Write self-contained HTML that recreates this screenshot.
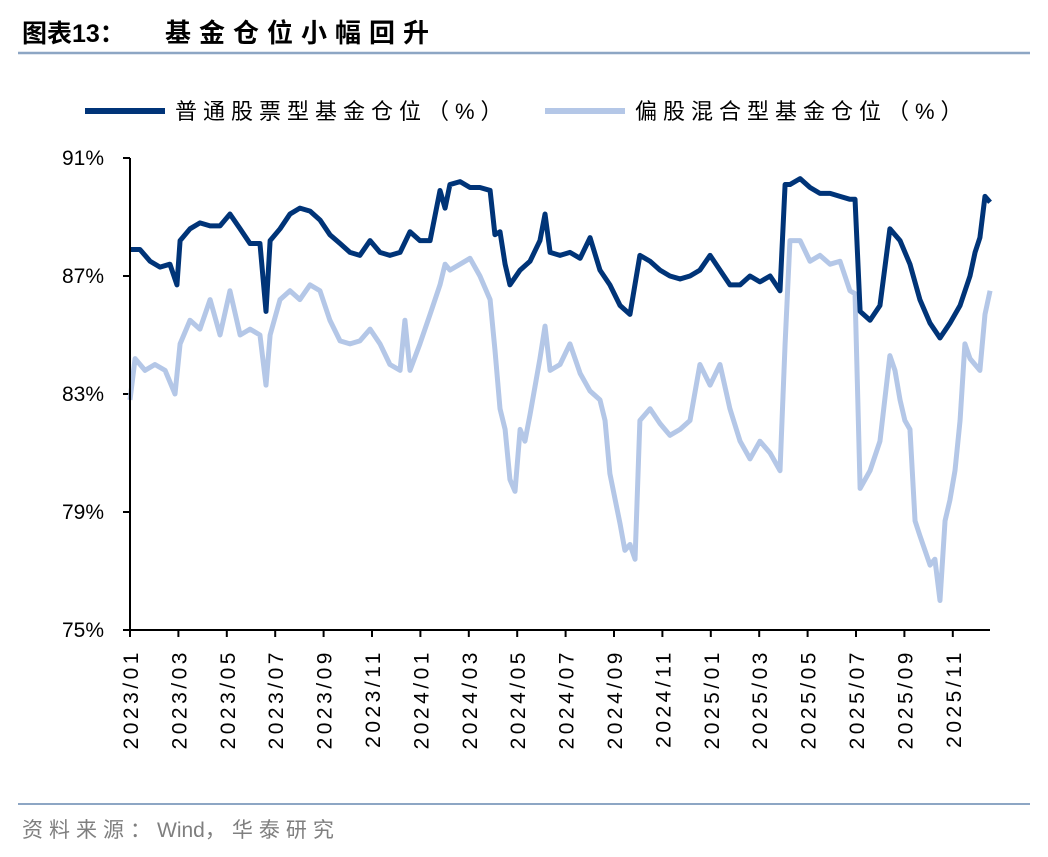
<!DOCTYPE html>
<html><head><meta charset="utf-8"><style>
body{margin:0;background:#fff;font-family:"Liberation Sans","Noto Sans CJK SC",sans-serif}
svg text{font-family:"Liberation Sans","Noto Sans CJK SC",sans-serif}
</style></head><body>
<svg id="c" width="1048" height="852" viewBox="0 0 1048 852" xmlns="http://www.w3.org/2000/svg">
<text x="22" y="42" font-size="25" font-weight="bold" fill="#000">图表13：</text>
<text x="165" y="42" font-size="26" font-weight="bold" letter-spacing="8" fill="#000">基金仓位小幅回升</text>
<line x1="18" y1="53" x2="1030" y2="53" stroke="#8DA6C4" stroke-width="2.5"/>
<g>
<line x1="85" y1="111" x2="165" y2="111" stroke="#003478" stroke-width="6"/>
<text x="175" y="119" font-size="22" letter-spacing="6" fill="#000">普通股票型基金仓位（%）</text>
<line x1="545" y1="111" x2="625" y2="111" stroke="#B4C7E7" stroke-width="6"/>
<text x="635" y="119" font-size="22" letter-spacing="6" fill="#000">偏股混合型基金仓位（%）</text>
</g>
<g id="plot"></g>
<line x1="18" y1="804" x2="1030" y2="804" stroke="#8DA6C4" stroke-width="2"/>
<text x="22" y="837" font-size="21" fill="#7F7F7F"><tspan letter-spacing="6">资料来源：</tspan><tspan>Wind</tspan><tspan letter-spacing="6">，华泰研究</tspan></text>
</svg>
<script>
const yTicks=[75,79,83,87,91];
const xTickLabels=["2023/01","2023/03","2023/05","2023/07","2023/09","2023/11","2024/01","2024/03","2024/05","2024/07","2024/09","2024/11","2025/01","2025/03","2025/05","2025/07","2025/09","2025/11"];
const tDark=[0,.41,.83,1.24,1.65,1.94,2.07,2.48,2.89,3.31,3.72,4.13,4.55,4.96,5.37,5.62,5.79,6.2,6.61,7.02,7.44,7.85,8.26,8.68,9.09,9.5,9.92,10.33,10.74,11.16,11.57,11.98,12.4,12.81,13.02,13.22,13.64,14.05,14.46,14.88,15.08,15.29,15.5,15.7,16.12,16.53,16.94,17.15,17.36,17.77,18.18,18.6,19.01,19.42,19.83,20.25,20.66,21.07,21.49,21.9,22.31,22.73,23.14,23.55,23.97,24.38,24.79,25.21,25.62,26.03,26.45,26.86,27.07,27.27,27.69,28.1,28.51,28.93,29.34,29.75,29.96,30.17,30.58,30.99,31.4,31.82,32.23,32.64,33.06,33.47,33.88,34.3,34.71,34.92,35.12,35.33,35.54];
const vDark=[87.9,87.9,87.5,87.3,87.4,86.7,88.2,88.6,88.8,88.7,88.7,89.1,88.6,88.1,88.1,85.8,88.2,88.6,89.1,89.3,89.2,88.9,88.4,88.1,87.8,87.7,88.2,87.8,87.7,87.8,88.5,88.2,88.2,89.9,89.3,90.1,90.2,90.0,90.0,89.9,88.4,88.5,87.4,86.7,87.2,87.5,88.2,89.1,87.8,87.7,87.8,87.6,88.3,87.2,86.7,86.0,85.7,87.7,87.5,87.2,87.0,86.9,87.0,87.2,87.7,87.2,86.7,86.7,87.0,86.8,87.0,86.5,90.1,90.1,90.3,90.0,89.8,89.8,89.7,89.6,89.6,85.8,85.5,86.0,88.6,88.2,87.4,86.2,85.4,84.9,85.4,86.0,87.0,87.8,88.3,89.7,89.5];
const tLight=[0,.21,.62,1.03,1.45,1.86,2.07,2.48,2.89,3.31,3.72,4.13,4.55,4.96,5.37,5.62,5.79,6.2,6.61,7.02,7.44,7.85,8.26,8.68,9.09,9.5,9.92,10.33,10.74,11.16,11.36,11.57,11.98,12.4,12.81,13.02,13.22,13.64,14.05,14.46,14.88,15.08,15.29,15.5,15.7,15.91,16.12,16.32,16.53,16.94,17.15,17.36,17.77,18.18,18.6,19.01,19.42,19.63,19.83,20.25,20.45,20.66,20.87,21.07,21.49,21.9,22.31,22.73,23.14,23.55,23.97,24.38,24.79,25.21,25.62,26.03,26.45,26.86,27.07,27.27,27.69,28.1,28.51,28.93,29.34,29.75,29.96,30.17,30.58,30.99,31.4,31.61,31.82,32.02,32.23,32.44,32.64,33.06,33.26,33.47,33.68,33.88,34.09,34.3,34.5,34.71,35.12,35.33,35.54];
const vLight=[82.8,84.2,83.8,84.0,83.8,83.0,84.7,85.5,85.2,86.2,85.0,86.5,85.0,85.2,85.0,83.3,85.0,86.2,86.5,86.2,86.7,86.5,85.5,84.8,84.7,84.8,85.2,84.7,84.0,83.8,85.5,83.8,84.7,85.7,86.7,87.4,87.2,87.4,87.6,87.0,86.2,84.5,82.5,81.8,80.1,79.7,81.8,81.4,82.3,84.2,85.3,83.8,84.0,84.7,83.7,83.1,82.8,82.1,80.3,78.6,77.7,77.9,77.4,82.1,82.5,82.0,81.6,81.8,82.1,84.0,83.3,84.0,82.5,81.4,80.8,81.4,81.0,80.4,84.7,88.2,88.2,87.5,87.7,87.4,87.5,86.5,86.4,79.8,80.4,81.4,84.3,83.8,82.8,82.1,81.8,78.7,78.2,77.2,77.4,76.0,78.7,79.4,80.4,82.1,84.7,84.2,83.8,85.7,86.5];
const X0=130,PX=24.2,Y0=630,PY=29.5;
const xs=t=>X0+t*PX, ys=v=>Y0-(v-75)*PY;
const NS="http://www.w3.org/2000/svg", g=document.getElementById('plot');
function mk(tag,a){const e=document.createElementNS(NS,tag);for(const k in a)e.setAttribute(k,a[k]);g.appendChild(e);return e;}
yTicks.forEach(v=>{
 const tk=mk('line',{x1:X0-7,x2:X0,y1:ys(v),y2:ys(v),stroke:'#000','stroke-width':2});
 
 
 const t=mk('text',{x:104,y:ys(v)+7,'font-size':21,'text-anchor':'end',fill:'#000'});
 t.textContent=v+'%';
 
 
});
xTickLabels.forEach((s,i)=>{
 const x=xs(i*2);
 const tk=mk('line',{x1:x,x2:x,y1:Y0,y2:Y0+7,stroke:'#000','stroke-width':2});
 
 
 const t=mk('text',{x:0,y:0,'font-size':21,'letter-spacing':'3.5','text-anchor':'end',fill:'#000',transform:`translate(${x+8},${Y0+19}) rotate(-90)`});
 t.textContent=s;
 
 
});
function line(ts,vs,col,name){
 const p=mk('polyline',{points:ts.map((t,i)=>xs(t)+','+ys(vs[i])).join(' '),fill:'none',stroke:col,'stroke-width':5,'stroke-linejoin':'round'});
 
 
}
line(tLight,vLight,'#B4C7E7','hybrid-fund-line');
line(tDark,vDark,'#003478','stock-fund-line');
const ya=mk('line',{x1:X0,x2:X0,y1:158,y2:Y0,stroke:'#000','stroke-width':2});


const xa=mk('line',{x1:X0,x2:990,y1:Y0,y2:Y0,stroke:'#000','stroke-width':2});


</script>
</body></html>
